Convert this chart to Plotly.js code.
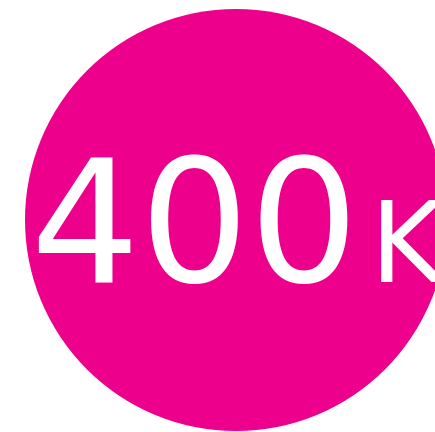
<!DOCTYPE html>
<html>
<head>
<meta charset="utf-8">
<script src="https://cdn.plot.ly/plotly-3.0.1.min.js"></script>
<style>html,body{margin:0;padding:0;background:#fff;overflow:hidden}#chart{width:435px;height:432px}</style>
</head>
<body>
<div id="chart"></div>
<script>
// Data
const labels = ["Total"];
const values = [400000];
const mainText = ["400"];
const suffixText = ["K"];

const circleX = [236];
const circleY = [212];
const textX = [237];
const textY = [193];

const circle = {
  type: "scatter",
  mode: "markers",
  x: circleX,
  y: circleY,
  customdata: values,
  marker: {size: 422, color: "#EC008C", line: {width: 0}},
  cliponaxis: false,
  hoverinfo: "none",
  name: labels[0]
};

const label = {
  type: "scatter",
  mode: "text",
  x: textX,
  y: textY,
  text: mainText.map((t, i) => t + "<span style='font-size:36px'> </span><span style='font-size:112px'>" + suffixText[i] + "</span>"),
  textposition: "middle center",
  textfont: {family: "DejaVu Sans", size: 172, color: "#ffffff"},
  cliponaxis: false,
  hoverinfo: "none"
};

const layout = {
  width: 435, height: 432,
  margin: {l: 0, r: 0, t: 0, b: 0},
  paper_bgcolor: "#ffffff",
  plot_bgcolor: "rgba(0,0,0,0)",
  showlegend: false,
  xaxis: {range: [0, 435], visible: false, fixedrange: true},
  yaxis: {range: [0, 432], visible: false, fixedrange: true}
};

Plotly.newPlot("chart", [circle, label], layout, {displayModeBar: false, staticPlot: true});
</script>
</body>
</html>
